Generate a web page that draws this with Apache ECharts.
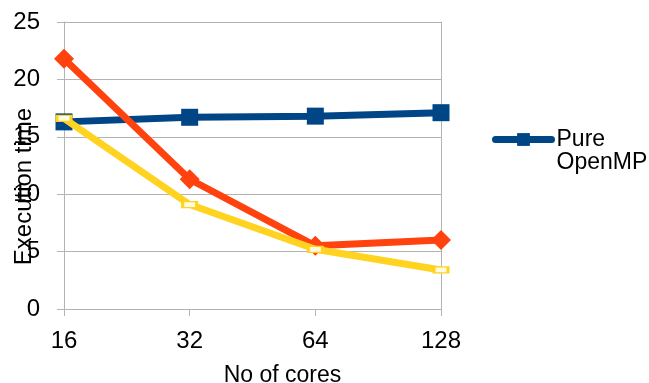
<!DOCTYPE html>
<html>
<head>
<meta charset="utf-8">
<script src="https://cdn.jsdelivr.net/npm/echarts@6/dist/echarts.min.js"></script>
<style>html,body{margin:0;padding:0;background:#fff}#c{width:649px;height:383px}</style>
</head>
<body>
<div id="c"></div>
<script>
const categories = ['16', '32', '64', '128'];
const pureOpenMP = [16.3, 16.7, 16.8, 17.1];
const seriesRed = [21.8, 11.3, 5.5, 6.0];
const seriesYellow = [16.6, 9.1, 5.2, 3.4];
const yTicks = { min: 0, max: 25, interval: 5 };

const FONT = '"Liberation Sans", Arial, sans-serif';
const GRID = '#b3b3b3';
const chart = echarts.init(document.getElementById('c'), null, { renderer: 'canvas' });
chart.setOption({
  animation: false,
  backgroundColor: '#fff',
  textStyle: { fontFamily: FONT },
  grid: { left: 64, right: 208, top: 22, bottom: 74, containLabel: false, outerBoundsMode: 'none' },
  legend: {
    data: ['Pure OpenMP'],
    left: 487,
    top: 100,
    itemWidth: 56,
    itemHeight: 16,
    itemGap: 4,
    lineStyle: { width: 7, cap: 'round' },
    formatter: function () { return '\nPure\nOpenMP'; },
    textStyle: { fontFamily: FONT, fontSize: 23, color: '#000', lineHeight: 23 }
  },
  xAxis: {
    type: 'category',
    data: categories,
    boundaryGap: false,
    name: 'No of cores',
    nameLocation: 'middle',
    nameGap: 55,
    nameTextStyle: { fontFamily: FONT, fontSize: 23, color: '#000', padding: [0, 0, 0, 60] },
    axisLine: { show: true, lineStyle: { color: GRID, width: 1 } },
    axisTick: { show: true, length: 7, lineStyle: { color: GRID } },
    axisLabel: { fontFamily: FONT, fontSize: 24, color: '#000', margin: 20 },
    splitLine: { show: false }
  },
  yAxis: [{
    type: 'value',
    min: yTicks.min, max: yTicks.max, interval: yTicks.interval,
    name: 'Execution time',
    nameLocation: 'middle',
    nameGap: 28,
    nameMoveOverlap: false,
    nameTextStyle: { fontFamily: FONT, fontSize: 24, color: '#000', padding: [0, 42, 0, 0] },
    axisLine: { show: true, lineStyle: { color: GRID, width: 1 } },
    axisTick: { show: true, length: 7, lineStyle: { color: GRID } },
    axisLabel: { fontFamily: FONT, fontSize: 24, color: '#000', margin: 24 },
    splitLine: { show: true, lineStyle: { color: GRID, width: 1 } }
  }, {
    type: 'value',
    position: 'right',
    min: yTicks.min, max: yTicks.max, interval: yTicks.interval,
    axisLine: { show: true, lineStyle: { color: GRID, width: 1 } },
    axisTick: { show: false },
    axisLabel: { show: false },
    splitLine: { show: false }
  }],
  series: [{
    name: 'Pure OpenMP',
    type: 'line',
    data: pureOpenMP,
    symbol: 'rect',
    symbolSize: 17,
    lineStyle: { color: '#004586', width: 7 },
    itemStyle: { color: '#004586' },
    z: 2
  }, {
    name: 'Series 2',
    type: 'line',
    data: seriesRed,
    symbol: 'diamond',
    symbolSize: 20,
    lineStyle: { color: '#ff420e', width: 7 },
    itemStyle: { color: '#ff420e' },
    z: 3
  }, {
    name: 'Series 3',
    type: 'line',
    data: seriesYellow,
    symbol: 'rect',
    symbolSize: [14, 6],
    lineStyle: { color: '#ffd320', width: 7 },
    itemStyle: { color: '#fffbe0', borderColor: '#ffd320', borderWidth: 2 },
    z: 4
  }]
});
</script>
</body>
</html>
